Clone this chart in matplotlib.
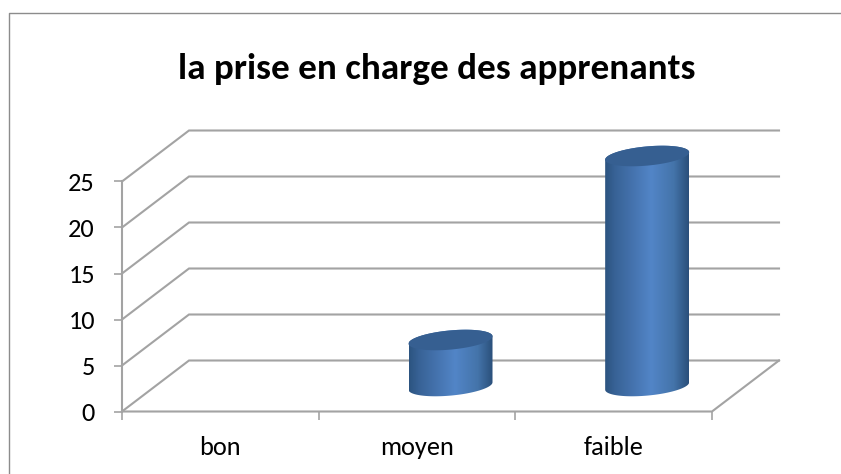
from __future__ import annotations

import matplotlib

matplotlib.use("Agg")

import matplotlib.pyplot as plt
import numpy as np
from matplotlib.colors import LinearSegmentedColormap
from matplotlib.lines import Line2D
from matplotlib.patches import Polygon

CATEGORIES = ["bon", "moyen", "faible"]
VALUES = [0, 5, 25]
Y_TICKS = [0, 5, 10, 15, 20, 25]
TITLE = "la prise en charge des apprenants"

W, H = 841, 474
LEFT, RIGHT, BOTTOM, TOP = 122, 712, 411.5, 181.5
# floor depth, in data units
DEPTH_X = 67 / ((RIGHT - LEFT) / 3)
DEPTH_Y = 51 / ((BOTTOM - TOP) / 25)
GRID = "#a3a3a3"

plt.rcParams["font.family"] = ["Carlito", "Lato", "DejaVu Sans"]

fig = plt.figure(figsize=(W / 100, H / 100), dpi=100)
# chart frame runs off the image on the right and at the bottom
fig.add_artist(
    Line2D([8.5 / W, 8.5 / W, 1], [0, 1 - 12.5 / H, 1 - 12.5 / H], transform=fig.transFigure,
           color="#8c8c8c", linewidth=1.0)
)
ax = fig.add_axes([LEFT / W, 1 - BOTTOM / H, (RIGHT - LEFT) / W, (BOTTOM - TOP) / H])
ax.set_xlim(0, len(CATEGORIES))
ax.set_ylim(0, Y_TICKS[-1])
ax.patch.set_alpha(0)
for side in ax.spines.values():
    side.set_visible(False)

# gridlines: slanted on the left wall, flat along the back wall
for v in Y_TICKS:
    ax.plot([0, DEPTH_X, len(CATEGORIES) + DEPTH_X], [v, v + DEPTH_Y, v + DEPTH_Y],
            color=GRID, lw=1.5, clip_on=False, solid_joinstyle="miter", zorder=1)
# floor outline
ax.plot([0, len(CATEGORIES), len(CATEGORIES) + DEPTH_X], [0, 0, DEPTH_Y],
        color=GRID, lw=1.5, clip_on=False, zorder=1)
ax.plot([0, 0], [0, Y_TICKS[-1]], color=GRID, lw=1.5, clip_on=False, zorder=1)

ax.set_yticks(Y_TICKS)
ax.set_xticks(range(len(CATEGORIES) + 1))
ax.set_xticklabels([])
ax.tick_params(axis="both", color=GRID, width=1.2, length=6, labelsize=19, labelcolor="black")
ax.tick_params(axis="y", pad=13.5)
for i, name in enumerate(CATEGORIES):
    ax.annotate(name, (i + 0.5, 0), xytext=(0, -26), textcoords="offset points",
                ha="center", va="center", fontsize=19, color="black")

cmap = LinearSegmentedColormap.from_list(
    "cyl", [(0, "#2c5480"), (0.12, "#386296"), (0.55, "#5285c7"), (0.82, "#4474aa"), (1, "#2a4f7a")]
)
# ellipse size and tilt in data units
semi_x = 42 / ((RIGHT - LEFT) / 3)
semi_y = 9.6 / ((BOTTOM - TOP) / 25)
tilt_y = 3.7 / ((BOTTOM - TOP) / 25)


def rim(cx, cy, t):
    return cx + semi_x * np.cos(t), cy + semi_y * np.sin(t) + tilt_y * np.cos(t)


for i, v in enumerate(VALUES):
    if v == 0:
        continue
    cx = i + 0.5 + DEPTH_X / 2
    base = DEPTH_Y / 2
    xa, ya = rim(cx, base, np.linspace(np.pi, 2 * np.pi, 60))
    xb, yb = rim(cx, base + v, np.linspace(0, np.pi, 60))
    body = Polygon(np.column_stack([np.r_[xa, xb], np.r_[ya, yb]]), closed=True,
                   facecolor="none", edgecolor="none", zorder=2)
    ax.add_patch(body)
    img = ax.imshow(np.linspace(0, 1, 256)[None, :], cmap=cmap, aspect="auto", zorder=3,
                    extent=(cx - semi_x, cx + semi_x, 0, base + v + semi_y + tilt_y))
    img.set_clip_box(fig.bbox)  # the bar rises above the axes box
    img.set_clip_path(body)
    xt, yt = rim(cx, base + v, np.linspace(0, 2 * np.pi, 120))
    ax.add_patch(Polygon(np.column_stack([xt, yt]), closed=True, facecolor="#365f91",
                         edgecolor="none", zorder=4, clip_on=False))

ax.set_xlim(0, len(CATEGORIES))
ax.set_ylim(0, Y_TICKS[-1])

fig.text(437 / W, 1 - 69 / H, TITLE, ha="center", va="center", fontsize=26.7,
         fontweight="bold", color="black")

fig.savefig("out.png", dpi=100)
